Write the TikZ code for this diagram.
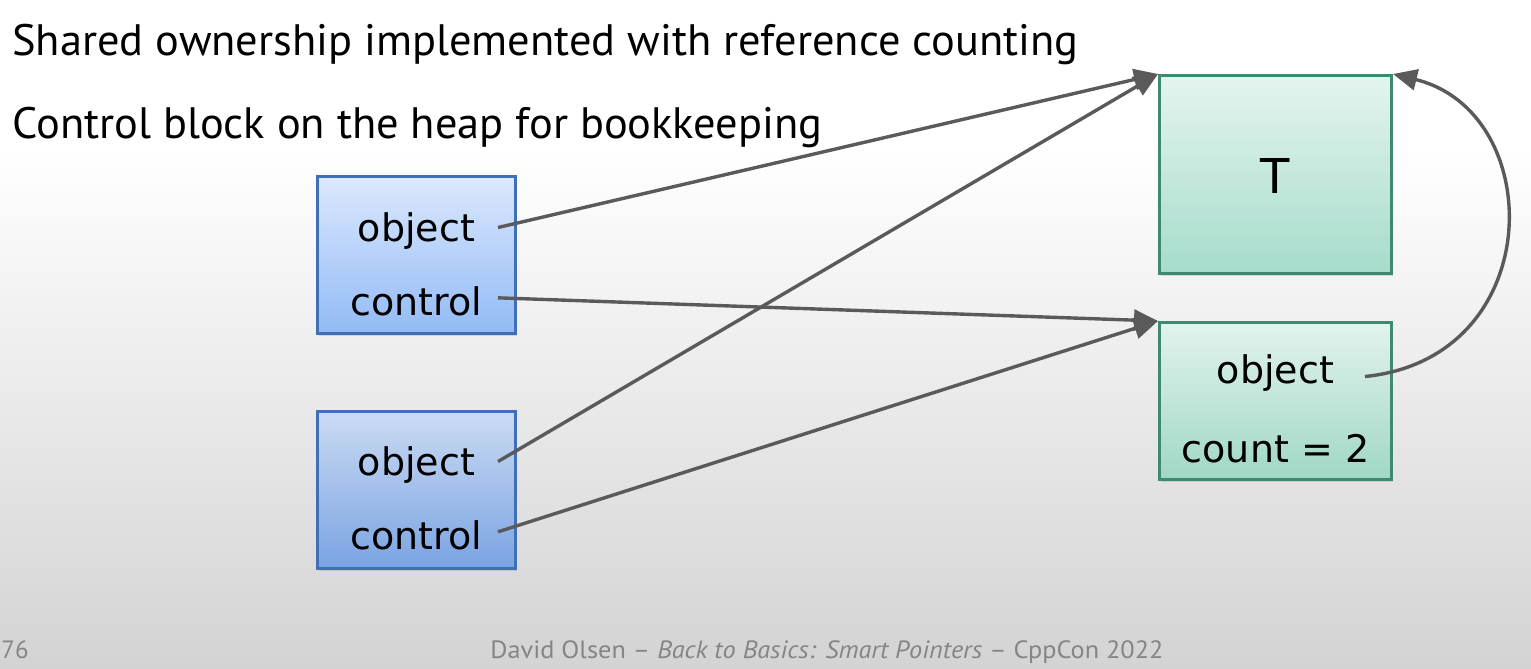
\documentclass[tikz,border=0pt]{standalone}
\usepackage{fontspec}
\usepackage{graphicx}
\setmainfont{DejaVu Sans}
\newfontfamily\headfont{PT Sans}
\usetikzlibrary{arrows.meta,calc,shadows}

\definecolor{bgbottom}{HTML}{D3D3D3}
\definecolor{blueline}{HTML}{3F6FB5}
\definecolor{greenline}{HTML}{3D8A70}
\definecolor{arrowgray}{HTML}{5A5A5A}
\definecolor{footgray}{HTML}{858585}
\definecolor{blueAtop}{HTML}{DCE8FD}
\definecolor{blueAbot}{HTML}{92BBF6}
\definecolor{blueBtop}{HTML}{CBDBF3}
\definecolor{blueBbot}{HTML}{7AA3E3}
\definecolor{greenAtop}{HTML}{E4F4EF}
\definecolor{greenAbot}{HTML}{A6DCCB}
\definecolor{greenBtop}{HTML}{E2F3ED}
\definecolor{greenBbot}{HTML}{A0D7C5}

\tikzset{
  slidebox/.style={draw, line width=1.5pt, inner sep=0pt,
    drop shadow={opacity=0.25, shadow xshift=0.6pt, shadow yshift=-1.2pt}},
  bluebox/.style={slidebox, draw=blueline,
    minimum width=99pt, minimum height=78.5pt},
  greenbox/.style={slidebox, draw=greenline, minimum width=116pt},
  celltext/.style={inner sep=0pt, anchor=base, font=\fontsize{19}{22}\selectfont},
  headline/.style={inner sep=0pt, anchor=base west, font=\headfont\fontsize{22}{26}\selectfont},
  footline/.style={inner sep=0pt, text=footgray, font=\headfont\fontsize{12.5}{15}\selectfont},
  pointer/.style={draw=arrowgray, line width=1.7pt,
    -{Triangle[length=12pt, width=10.5pt]}, arrowgray}
}

\begin{document}
\begin{tikzpicture}[x=0.5pt, y=-0.5pt]
  % slide background: white fading to light gray
  \useasboundingbox (0,0) rectangle (1531,669);
  \fill[white] (0,0) rectangle (1531,669);
  \shade[top color=white, bottom color=bgbottom] (0,150) rectangle (1531,669);

  % bullet lines
  \node[headline] (l1) at (12,55)
    {\resizebox{533pt}{\height}{Shared ownership implemented with reference counting}};
  \node[headline] (l2) at (12,138)
    {\resizebox{405pt}{\height}{Control block on the heap for bookkeeping}};

  % the two shared pointers
  \node[bluebox, top color=blueAtop, bottom color=blueAbot] (p1) at (416.5,255) {};
  \node[bluebox, top color=blueBtop, bottom color=blueBbot] (p2) at (416.5,490) {};
  \node[celltext] (o1) at (416.5,241) {object};
  \node[celltext] (c1) at (416.5,315) {control};
  \node[celltext] (o2) at (416.5,475) {object};
  \node[celltext] (c2) at (416.5,549) {control};

  % the managed object and its control block
  \node[greenbox, minimum height=99pt, top color=greenAtop, bottom color=greenAbot]
    (tobj) at (1275.5,174.5) {};
  \node[greenbox, minimum height=78.5pt, top color=greenBtop, bottom color=greenBbot]
    (ctrl) at (1275.5,401) {};
  \node[inner sep=0pt, anchor=base, font=\fontsize{24}{28}\selectfont] (tl) at (1275.5,193) {T};
  \node[celltext] (go) at (1275.5,383) {object};
  \node[celltext] (gc) at (1275.5,462) {count = 2};

  % pointers
  \draw[pointer] ($(o1 -| p1.east)+(-19,-3)$) -- (tobj.north west);
  \draw[pointer] ($(c1 -| p1.east)+(-19,-3)$) -- (ctrl.north west);
  \draw[pointer] ($(o2 -| p2.east)+(-19,-3)$) -- (tobj.north west);
  \draw[pointer] ($(c2 -| p2.east)+(-19,-3)$) -- (ctrl.north west);
  \draw[pointer] ($(go -| ctrl.east)+(-28,4)$)
    .. controls (1548,358) and (1548,112) .. (tobj.north east);

  % footer
  \node[footline, anchor=base west] (pg) at (1,658) {76};
  \node[footline, anchor=base west] (ft) at (490,658)
    {\resizebox{336.5pt}{\height}{David Olsen – \textit{Back to Basics: Smart Pointers} – CppCon 2022}};
\end{tikzpicture}
\end{document}
